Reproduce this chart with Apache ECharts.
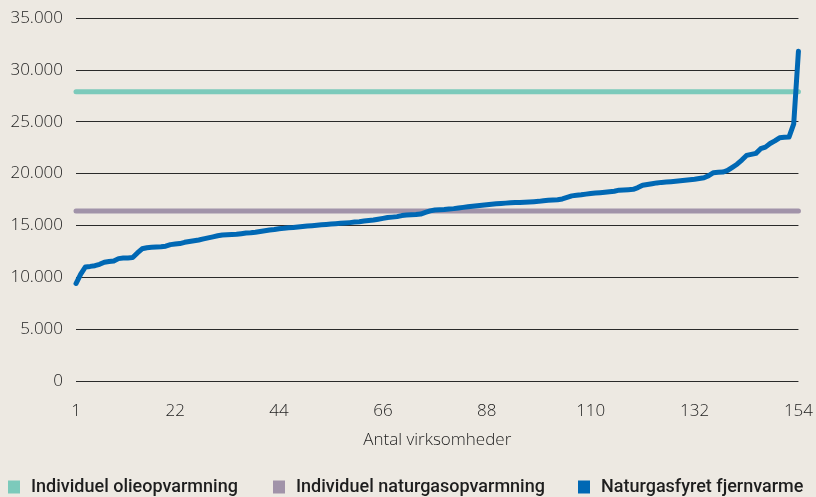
<!DOCTYPE html>
<html>
<head>
<meta charset="utf-8">
<script src="https://cdn.jsdelivr.net/npm/echarts@6/dist/echarts.min.js"></script>
<style>
  html, body { margin: 0; padding: 0; background: #ede9e2; }
  #chart { width: 816px; height: 497px; }
</style>
</head>
<body>
<div id="chart"></div>
<script>
// virksomheder 1..154, sorteret efter pris for naturgasfyret fjernvarme
const virksomheder = Array.from({ length: 154 }, (_, i) => String(i + 1))

const fjernvarme = [
  9400, 10300, 11000, 11050, 11120, 11250, 11450, 11520, 11570, 11800,
  11850, 11870, 11900, 12350, 12750, 12850, 12900, 12930, 12950, 13000,
  13150, 13200, 13250, 13370, 13450, 13520, 13600, 13700, 13800, 13900,
  14000, 14080, 14100, 14120, 14140, 14200, 14270, 14300, 14350, 14420,
  14480, 14550, 14600, 14680, 14720, 14780, 14800, 14850, 14900, 14950,
  14980, 15020, 15060, 15100, 15130, 15170, 15200, 15230, 15270, 15320,
  15360, 15420, 15480, 15520, 15600, 15680, 15760, 15800, 15850, 15950,
  16000, 16020, 16050, 16100, 16250, 16400, 16480, 16500, 16530, 16580,
  16620, 16680, 16740, 16800, 16850, 16900, 16950, 17000, 17050, 17080,
  17120, 17150, 17180, 17200, 17210, 17230, 17260, 17290, 17320, 17380,
  17420, 17450, 17480, 17550, 17700, 17850, 17900, 17950, 18020, 18080,
  18120, 18160, 18200, 18250, 18300, 18400, 18420, 18450, 18480, 18650,
  18880, 18950, 19020, 19100, 19150, 19180, 19220, 19260, 19300, 19350,
  19400, 19450, 19520, 19600, 19800, 20080, 20120, 20150, 20300, 20600,
  20900, 21300, 21750, 21850, 21950, 22400, 22550, 22900, 23150, 23450,
  23500, 23520, 24800, 31800
]

// faste niveauer for de individuelle løsninger
const olieNiveau = 27900
const naturgasNiveau = 16400

const yTicks = [0, 5000, 10000, 15000, 20000, 25000, 30000, 35000]

const chart = echarts.init(document.getElementById('chart'))

const fmt = v => String(v).replace(/\B(?=(\d{3})+(?!\d))/g, '.')

const legendText = {
  fontFamily: 'Roboto',
  fontWeight: 500,
  fontSize: 18,
  color: '#1e1e1e',
  padding: [0, 0, 0, 6]
}

const option = {
  backgroundColor: '#ede9e2',
  animation: false,
  grid: { left: 76, right: 16, top: 18, bottom: 116 },
  legend: [
    { data: ['Individuel olieopvarmning'], left: 3, top: 473 },
    { data: ['Individuel naturgasopvarmning'], left: 268, top: 473 },
    { data: ['Naturgasfyret fjernvarme'], left: 573, top: 473 }
  ].map(l => Object.assign(l, {
    icon: 'rect',
    itemWidth: 12,
    itemHeight: 13,
    itemGap: 0,
    textStyle: legendText
  })),
  xAxis: {
    type: 'category',
    data: virksomheder,
    boundaryGap: false,
    name: 'Antal virksomheder',
    nameLocation: 'middle',
    nameGap: 51,
    nameTextStyle: { fontFamily: 'Open Sans', fontWeight: 300, fontSize: 17, color: '#1e1e1e' },
    axisLine: { show: false },
    axisTick: { show: false },
    axisLabel: {
      interval: (idx) => idx === 0 || (idx + 1) % 22 === 0,
      margin: 22,
      fontFamily: 'Open Sans',
      fontWeight: 300,
      fontSize: 17,
      color: '#1e1e1e'
    }
  },
  yAxis: {
    type: 'value',
    min: yTicks[0],
    max: yTicks[yTicks.length - 1],
    interval: 5000,
    axisLine: { show: false },
    axisTick: { show: false },
    axisLabel: {
      margin: 13,
      formatter: fmt,
      fontFamily: 'Open Sans',
      fontWeight: 300,
      fontSize: 17,
      color: '#1e1e1e'
    },
    splitLine: { lineStyle: { color: '#2a2a2a', width: 1.2 } }
  },
  series: [
    {
      name: 'Individuel olieopvarmning',
      type: 'line',
      data: [[0, olieNiveau], [virksomheder.length - 1, olieNiveau]],
      symbol: 'none',
      itemStyle: { color: '#7ccabb' },
      lineStyle: { color: '#7ccabb', width: 5, cap: 'round' },
      z: 2
    },
    {
      name: 'Individuel naturgasopvarmning',
      type: 'line',
      data: [[0, naturgasNiveau], [virksomheder.length - 1, naturgasNiveau]],
      symbol: 'none',
      itemStyle: { color: '#a193a9' },
      lineStyle: { color: '#a193a9', width: 5, cap: 'round' },
      z: 2
    },
    {
      name: 'Naturgasfyret fjernvarme',
      type: 'line',
      data: fjernvarme,
      symbol: 'none',
      itemStyle: { color: '#0068b4' },
      lineStyle: { color: '#0068b4', width: 5, cap: 'round', join: 'round' },
      z: 3
    }
  ]
}

chart.setOption(option)
</script>
</body>
</html>
